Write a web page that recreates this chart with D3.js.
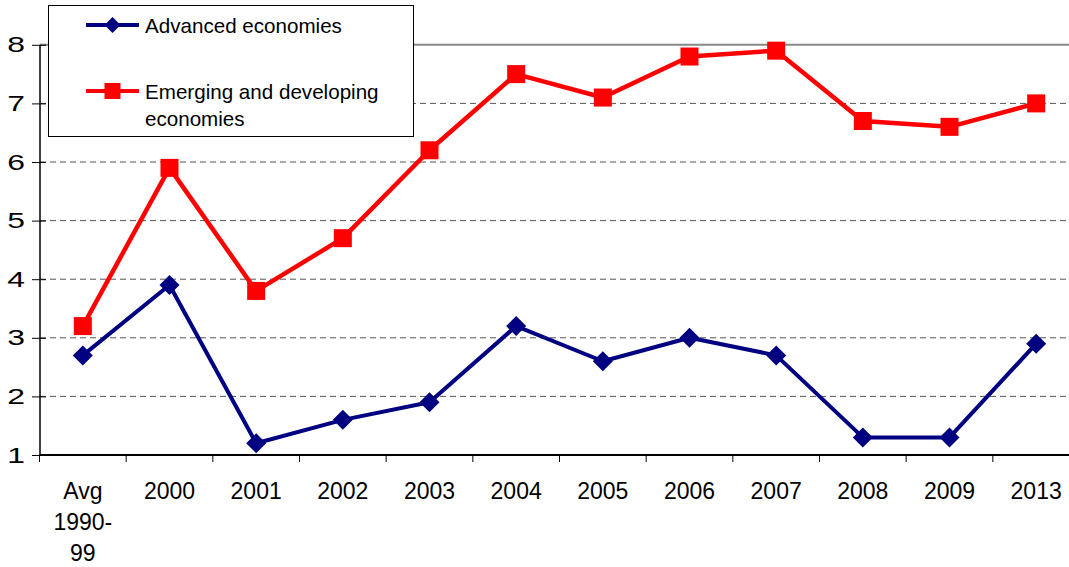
<!DOCTYPE html>
<html>
<head>
<meta charset="utf-8">
<script src="https://cdn.jsdelivr.net/npm/d3@7"></script>
<style>
  body { margin: 0; background: #fff; }
  svg { font-family: "Liberation Sans", Arial, sans-serif; }
  .grid { stroke: #555; stroke-width: 1px; stroke-dasharray: 6,4; }
  .top { stroke: #888; stroke-width: 2px; }
</style>
</head>
<body>
<svg id="chart" width="1069" height="567"></svg>
<script>
  const categories = ["Avg 1990-99", "2000", "2001", "2002", "2003", "2004", "2005", "2006", "2007", "2008", "2009", "2013"];
  const advanced = [2.7, 3.9, 1.2, 1.6, 1.9, 3.2, 2.6, 3.0, 2.7, 1.3, 1.3, 2.9];
  const emerging = [3.2, 5.9, 3.8, 4.7, 6.2, 7.5, 7.1, 7.8, 7.9, 6.7, 6.6, 7.0];
  const yTicks = [1, 2, 3, 4, 5, 6, 7, 8];

  const svg = d3.select("#chart");
  const x = d3.scaleBand().domain(categories).range([39.5, 1079.5]);
  const y = d3.scaleLinear().domain([1, 8]).range([455, 44.8]);
  const cx = (d, i) => x(categories[i]) + x.bandwidth() / 2;

  // gridlines
  svg.append("g").selectAll("line")
    .data(yTicks.filter(t => t > 1))
    .enter().append("line")
    .attr("class", d => d === 8 ? "top" : "grid")
    .attr("x1", 40).attr("x2", 1069)
    .attr("y1", d => y(d)).attr("y2", d => y(d));

  // y axis
  const yAxis = svg.append("g")
    .attr("transform", "translate(40,0)")
    .call(d3.axisLeft(y).tickValues(yTicks).tickSize(8).tickFormat(d3.format("d")));
  yAxis.select(".domain").attr("stroke", "#000").attr("stroke-width", 1.5).attr("d", `M0,${y(8)}V${y(1)}`);
  yAxis.selectAll(".tick line").attr("stroke", "#000").attr("x1", 6);
  // labels in the original are drawn wide
  yAxis.selectAll("text")
    .attr("x", null)
    .attr("transform", "translate(-15,0) scale(1.45,1)")
    .attr("font-size", 22).attr("fill", "#000")
    .attr("font-family", "Liberation Sans, Arial, sans-serif");

  // x axis
  const xAxis = svg.append("g").attr("transform", `translate(0,${y(1)})`);
  xAxis.append("line").attr("x1", 39.5).attr("x2", 1069).attr("stroke", "#000").attr("stroke-width", 2);
  xAxis.selectAll("line.tk")
    .data(categories)
    .enter().append("line")
    .attr("class", "tk")
    .attr("x1", d => x(d)).attr("x2", d => x(d))
    .attr("y1", 0).attr("y2", 7)
    .attr("stroke", "#000");
  const lbl = xAxis.selectAll("text")
    .data(categories)
    .enter().append("text")
    .attr("x", d => x(d) + x.bandwidth() / 2)
    .attr("text-anchor", "middle")
    .attr("font-size", 23)
    .attr("fill", "#000");
  lbl.each(function(d) {
    const parts = d === "Avg 1990-99" ? ["Avg", "1990-", "99"] : [d];
    d3.select(this).selectAll("tspan")
      .data(parts)
      .enter().append("tspan")
      .attr("x", x(d) + x.bandwidth() / 2)
      .attr("y", (p, i) => 44 + i * 31)
      .text(p => p);
  });

  const line = d3.line().x(cx).y(d => y(d));

  // advanced
  svg.append("path").datum(advanced)
    .attr("fill", "none").attr("stroke", "#000080").attr("stroke-width", 4)
    .attr("stroke-linejoin", "round").attr("d", line);
  svg.append("g").selectAll("path")
    .data(advanced).enter().append("path")
    .attr("transform", (d, i) => `translate(${cx(d, i)},${y(d)})`)
    .attr("d", "M0,-10L10,0L0,10L-10,0Z")
    .attr("fill", "#000080");

  // emerging
  svg.append("path").datum(emerging)
    .attr("fill", "none").attr("stroke", "#ff0000").attr("stroke-width", 4.5)
    .attr("stroke-linejoin", "round").attr("d", line);
  svg.append("g").selectAll("rect")
    .data(emerging).enter().append("rect")
    .attr("x", (d, i) => cx(d, i) - 9).attr("y", d => y(d) - 9)
    .attr("width", 18).attr("height", 18)
    .attr("fill", "#ff0000");

  // legend
  const leg = svg.append("g");
  leg.append("rect").attr("x", 48.5).attr("y", 5.5).attr("width", 365).attr("height", 131)
    .attr("fill", "#fff").attr("stroke", "#000").attr("stroke-width", 1);
  leg.append("line").attr("x1", 86).attr("x2", 139).attr("y1", 25).attr("y2", 25)
    .attr("stroke", "#000080").attr("stroke-width", 4);
  leg.append("path").attr("transform", "translate(112.5,25)").attr("d", "M0,-8L8,0L0,8L-8,0Z").attr("fill", "#000080");
  leg.append("text").attr("x", 145).attr("y", 33).attr("font-size", 20.6).text("Advanced economies");
  leg.append("line").attr("x1", 86).attr("x2", 139).attr("y1", 91).attr("y2", 91)
    .attr("stroke", "#ff0000").attr("stroke-width", 4);
  leg.append("rect").attr("x", 104.5).attr("y", 83).attr("width", 16).attr("height", 16).attr("fill", "#ff0000");
  leg.append("text").attr("x", 145).attr("y", 99).attr("font-size", 20.6).text("Emerging and developing");
  leg.append("text").attr("x", 145).attr("y", 126).attr("font-size", 20.6).text("economies");
</script>
</body>
</html>
